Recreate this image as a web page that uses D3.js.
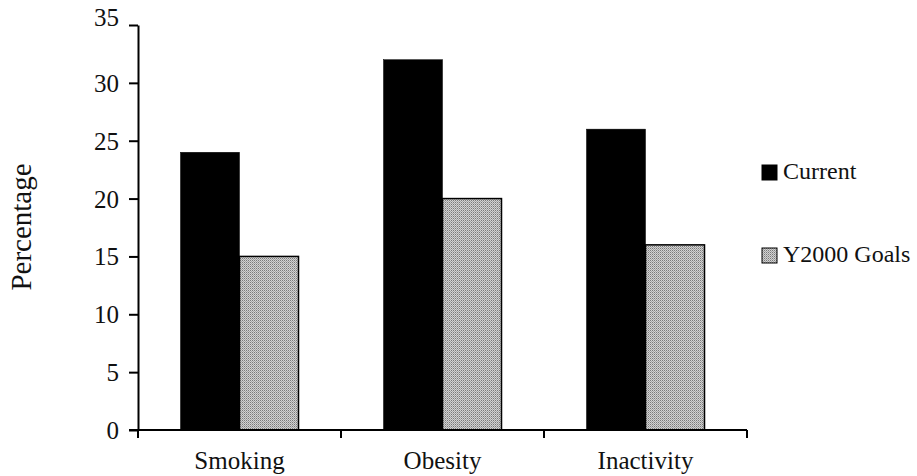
<!DOCTYPE html>
<html>
<head>
<meta charset="utf-8">
<script src="https://cdn.jsdelivr.net/npm/d3@7"></script>
<style>
  html, body { margin: 0; padding: 0; background: #fff; }
  svg text { font-family: "Liberation Serif", "Times New Roman", serif; fill: #111; }
</style>
</head>
<body>
<svg id="chart" width="917" height="476"></svg>
<script>
// Risk factors: current prevalence vs. Year 2000 targets (%)
const categories = ["Smoking", "Obesity", "Inactivity"];
const seriesNames = ["Current", "Y2000 Goals"];
const currentValues = [24, 32, 26];
const goalValues = [15, 20, 16];
const yTicks = [0, 5, 10, 15, 20, 25, 30, 35];

const rows = categories.map((c, i) => ({ category: c, values: [currentValues[i], goalValues[i]] }));

const svg = d3.select("#chart");
const plot = { left: 138, right: 747, top: 25, bottom: 430 };

// Stippled grey fill for the goal bars
const defs = svg.append("defs");
const pat = defs.append("pattern")
  .attr("id", "stipple")
  .attr("patternUnits", "userSpaceOnUse")
  .attr("width", 2).attr("height", 2);
pat.append("rect").attr("width", 2).attr("height", 2).attr("fill", "#d2d2d2");
pat.append("rect").attr("x", 0).attr("y", 0).attr("width", 1).attr("height", 1).attr("fill", "#7a7a7a");
pat.append("rect").attr("x", 1).attr("y", 1).attr("width", 1).attr("height", 1).attr("fill", "#a4a4a4");

const x0 = d3.scaleBand().domain(categories).range([plot.left, plot.right]).padding(0);
const x1 = d3.scaleBand().domain(seriesNames).range([0, x0.bandwidth()]).paddingInner(0).paddingOuter(0.72);
const y = d3.scaleLinear().domain([0, 35]).range([plot.bottom, plot.top]);

const fills = { "Current": "#000", "Y2000 Goals": "url(#stipple)" };

// Bars
const groups = svg.append("g").selectAll("g").data(rows).join("g")
  .attr("transform", d => `translate(${x0(d.category)},0)`);
groups.selectAll("rect")
  .data(d => d.values.map((v, j) => ({ key: seriesNames[j], value: v })))
  .join("rect")
  .attr("x", d => x1(d.key))
  .attr("y", d => y(d.value))
  .attr("width", x1.bandwidth())
  .attr("height", d => y(0) - y(d.value))
  .attr("fill", d => fills[d.key])
  .attr("stroke", "#000")
  .attr("stroke-width", d => d.key === "Current" ? 0.5 : 1.5);

// Y axis
const yAxis = svg.append("g")
  .attr("transform", `translate(${plot.left},0)`)
  .call(d3.axisLeft(y).tickValues(yTicks).tickSize(9).tickPadding(10).tickSizeOuter(0));
yAxis.select(".domain").attr("stroke", "#000").attr("stroke-width", 2);
yAxis.selectAll(".tick line").attr("stroke", "#000").attr("stroke-width", 2);
yAxis.selectAll(".tick text").attr("font-size", 25)
  .attr("dy", d => d === 35 ? "0.0em" : "0.34em");

// X axis: ticks on category boundaries, labels at band centres
const boundaries = categories.map(c => x0(c)).concat([x0.range()[1]]);
const xAxisG = svg.append("g").attr("transform", `translate(0,${plot.bottom})`);
xAxisG.append("line")
  .attr("x1", plot.left - 9).attr("x2", plot.right)
  .attr("stroke", "#000").attr("stroke-width", 2);
xAxisG.selectAll("line.tick").data(boundaries).join("line")
  .attr("class", "tick")
  .attr("x1", d => d).attr("x2", d => d)
  .attr("y1", 0).attr("y2", 8)
  .attr("stroke", "#000").attr("stroke-width", 2);
xAxisG.selectAll("text").data(categories).join("text")
  .attr("x", d => x0(d) + x0.bandwidth() / 2)
  .attr("y", 39)
  .attr("text-anchor", "middle")
  .attr("font-size", 25)
  .text(d => d);

// Y axis title
svg.append("text")
  .attr("transform", `translate(31,227) rotate(-90)`)
  .attr("text-anchor", "middle")
  .attr("font-size", 29)
  .text("Percentage");

// Legend
const legend = svg.append("g").selectAll("g").data(seriesNames).join("g")
  .attr("transform", (d, i) => `translate(762,${165 + i * 83})`);
legend.append("rect")
  .attr("width", 15).attr("height", 15)
  .attr("fill", d => fills[d])
  .attr("stroke", "#000").attr("stroke-width", 1);
legend.append("text")
  .attr("x", 21).attr("y", 14)
  .attr("font-size", 24)
  .text(d => d);
</script>
</body>
</html>
